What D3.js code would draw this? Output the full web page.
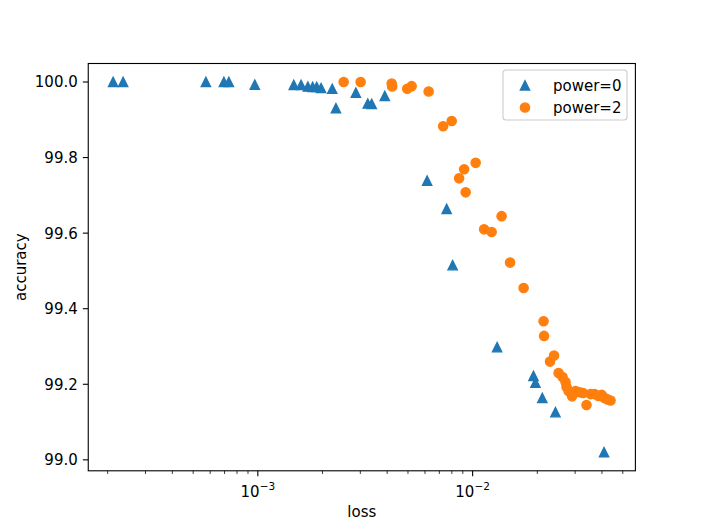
<!DOCTYPE html>
<html>
<head>
<meta charset="utf-8">
<script src="https://cdn.jsdelivr.net/npm/d3@7"></script>
<style>
 body { margin: 0; background: #fff; }
 text { font-family: "DejaVu Sans", sans-serif; fill: #000; }
</style>
</head>
<body>
<div id="chart"></div>
<script>
// series power=0 (triangles)
var lossP0 = [0.000212, 0.000236, 0.000573, 0.000695, 0.000733, 0.000968,
 0.00147, 0.00159, 0.00171, 0.00180, 0.00188, 0.00197, 0.00222, 0.00231,
 0.00286, 0.00325, 0.00339, 0.00390, 0.00614, 0.00757, 0.00807, 0.0130,
 0.0192, 0.0196, 0.0211, 0.0243, 0.0409];
var accP0 = [100.0, 100.0, 100.0, 100.0, 100.0, 99.993,
 99.992, 99.992, 99.988, 99.987, 99.987, 99.984, 99.982, 99.931,
 99.972, 99.943, 99.942, 99.963, 99.739, 99.664, 99.515, 99.298,
 99.222, 99.204, 99.164, 99.126, 99.020];

// series power=2 (circles)
var lossP2 = [0.00251, 0.00301, 0.00420, 0.00422, 0.00496, 0.00520, 0.00624,
 0.00729, 0.00799, 0.01033, 0.00913, 0.00865, 0.00928, 0.01364, 0.01131,
 0.01226, 0.01494, 0.01727, 0.02139, 0.02151, 0.02394, 0.02293,
 0.02512, 0.02622, 0.02707, 0.02736, 0.02796, 0.02903, 0.03014, 0.03146,
 0.03266, 0.03390, 0.03539, 0.03694, 0.03855, 0.03981, 0.04111, 0.04246, 0.04385];
var accP2 = [100.0, 100.0, 99.996, 99.988, 99.982, 99.989, 99.975,
 99.883, 99.897, 99.786, 99.769, 99.745, 99.708, 99.645, 99.610,
 99.603, 99.522, 99.455, 99.367, 99.328, 99.276, 99.260,
 99.230, 99.219, 99.206, 99.193, 99.182, 99.168, 99.182, 99.179,
 99.177, 99.145, 99.174, 99.174, 99.169, 99.172, 99.164, 99.160, 99.157];

var yTicks = [99.0, 99.2, 99.4, 99.6, 99.8, 100.0];
var xMajorTicks = [1e-3, 1e-2];
var xMajorLabels = ['\u22123', '\u22122']; // exponents of 10
var legendLabels = ['power=0', 'power=2'];
var colors = ['#1f77b4', '#ff7f0e'];

// figure geometry (matplotlib default subplot box)
var W = 706, H = 529;
var axL = 88.25, axR = 635.4, axT = 63.5, axB = 470.8;
var fontSize = 15;
var half = 4.6; // half marker size

var svg = d3.select('#chart').append('svg')
 .attr('width', W).attr('height', H);

// log x domain with 5% margin in log space
var lx = d3.extent(lossP0.concat(lossP2)).map(Math.log10);
var mx = (lx[1] - lx[0]) * 0.05;
var x = d3.scaleLog()
 .domain([Math.pow(10, lx[0] - mx), Math.pow(10, lx[1] + mx)])
 .range([axL, axR]);

var ly = d3.extent(accP0.concat(accP2));
var my = (ly[1] - ly[0]) * 0.05;
var y = d3.scaleLinear()
 .domain([ly[0] - my, ly[1] + my])
 .range([axB, axT]);

// triangle '^' like matplotlib
function triPath(h)
{
 return 'M0,' + (-h) + 'L' + (-h) + ',' + h + 'L' + h + ',' + h + 'Z';
}

var plot = svg.append('g');

// power=0
plot.selectAll('path.p0').data(d3.range(lossP0.length)).enter()
 .append('path').attr('class', 'p0')
 .attr('d', triPath(half))
 .attr('transform', function(i){ return 'translate(' + x(lossP0[i]) + ',' + y(accP0[i]) + ')'; })
 .style('fill', colors[0]).style('stroke', colors[0]).style('stroke-width', 1.4)
 .style('stroke-linejoin', 'miter');

// power=2
plot.selectAll('circle.p2').data(d3.range(lossP2.length)).enter()
 .append('circle').attr('class', 'p2')
 .attr('cx', function(i){ return x(lossP2[i]); })
 .attr('cy', function(i){ return y(accP2[i]); })
 .attr('r', half)
 .style('fill', colors[1]).style('stroke', colors[1]).style('stroke-width', 1.4);

// frame
svg.append('rect')
 .attr('x', axL).attr('y', axT)
 .attr('width', axR - axL).attr('height', axB - axT)
 .style('fill', 'none').style('stroke', '#000').style('stroke-width', 1.1);

// y ticks
var yg = svg.append('g');
yTicks.forEach(function(t)
{
 yg.append('line')
  .attr('x1', axL - 5.4).attr('x2', axL)
  .attr('y1', y(t)).attr('y2', y(t))
  .style('stroke', '#000').style('stroke-width', 1.1);
 yg.append('text')
  .attr('x', axL - 10.5).attr('y', y(t))
  .attr('dy', '0.36em')
  .attr('text-anchor', 'end')
  .style('font-size', fontSize + 'px')
  .text(t.toFixed(1));
});

// x ticks: minor from the log scale, major at decades
var xg = svg.append('g');
x.ticks().forEach(function(t)
{
 var lg = Math.log10(t);
 var major = Math.abs(lg - Math.round(lg)) < 1e-9;
 xg.append('line')
  .attr('x1', x(t)).attr('x2', x(t))
  .attr('y1', axB).attr('y2', axB + (major ? 5.4 : 3.1))
  .style('stroke', '#000').style('stroke-width', major ? 1.1 : 0.8);
});
xMajorTicks.forEach(function(t, i)
{
 var lab = xg.append('text')
  .attr('x', x(t)).attr('y', axB + 26)
  .attr('text-anchor', 'middle')
  .style('font-size', fontSize + 'px');
 lab.append('tspan').text('10');
 lab.append('tspan')
  .attr('dy', -6.5)
  .style('font-size', (fontSize * 0.7) + 'px')
  .text(xMajorLabels[i]);
});

// axis labels
svg.append('text')
 .attr('x', (axL + axR) / 2).attr('y', axB + 46)
 .attr('text-anchor', 'middle')
 .style('font-size', fontSize + 'px')
 .text('loss');
svg.append('text')
 .attr('transform', 'translate(26,' + ((axT + axB) / 2) + ') rotate(-90)')
 .attr('text-anchor', 'middle')
 .style('font-size', fontSize + 'px')
 .text('accuracy');

// legend
var leg = svg.append('g').attr('transform', 'translate(503,70)');
leg.append('rect')
 .attr('width', 124).attr('height', 50)
 .attr('rx', 3).attr('ry', 3)
 .style('fill', '#fff').style('fill-opacity', 0.8)
 .style('stroke', '#cccccc').style('stroke-width', 1.1);
leg.append('path')
 .attr('d', triPath(half))
 .attr('transform', 'translate(22,15.5)')
 .style('fill', colors[0]).style('stroke', colors[0]).style('stroke-width', 1.4);
leg.append('circle')
 .attr('cx', 22).attr('cy', 37.5).attr('r', half)
 .style('fill', colors[1]).style('stroke', colors[1]).style('stroke-width', 1.4);
legendLabels.forEach(function(l, i)
{
 leg.append('text')
  .attr('x', 50).attr('y', 15.5 + i * 22)
  .attr('dy', '0.36em')
  .style('font-size', fontSize + 'px')
  .text(l);
});
</script>
</body>
</html>
